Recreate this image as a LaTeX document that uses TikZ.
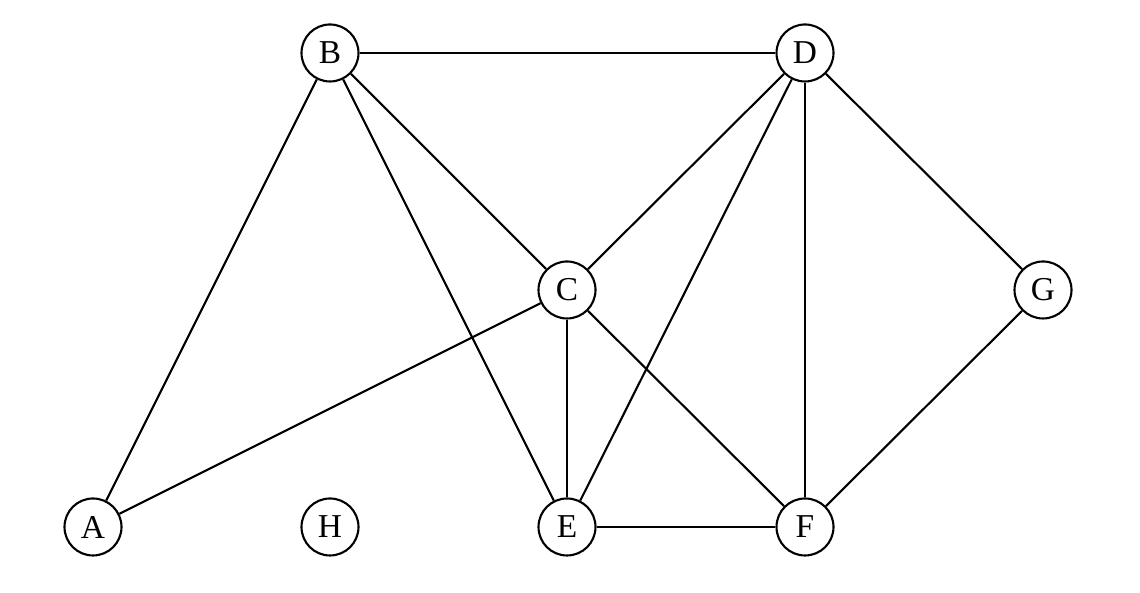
\documentclass[tikz,border=0pt]{standalone}
\usepackage{fontspec}
\setmainfont{Liberation Serif}
\tikzset{vertex/.style={circle,draw,semithick,minimum size=0.57cm,inner sep=0pt,font=\fontsize{9.5}{11}\selectfont}}
\begin{document}
\begin{tikzpicture}
%\draw (0,0) grid (11,6);
\useasboundingbox (0,0) rectangle (11.40,5.93);
\node[vertex] (A) at (0.93,0.66) {A};
\node[vertex] (H) at (3.30,0.66) {H};
\node[vertex] (E) at (5.67,0.66) {E};
\node[vertex] (F) at (8.05,0.66) {F};
\node[vertex] (C) at (5.67,3.03) {C};
\node[vertex] (G) at (10.43,3.03) {G};
\node[vertex] (B) at (3.30,5.40) {B};
\node[vertex] (D) at (8.05,5.40) {D};
\draw [semithick] (B) -- (D);
\draw [semithick] (B) -- (A);
\draw [semithick] (B) -- (C);
\draw [semithick] (B) -- (E);
\draw [semithick] (D) -- (C);
\draw [semithick] (D) -- (E);
\draw [semithick] (D) -- (F);
\draw [semithick] (D) -- (G);
\draw [semithick] (C) -- (A);
\draw [semithick] (C) -- (E);
\draw [semithick] (C) -- (F);
\draw [semithick] (E) -- (F);
\draw [semithick] (G) -- (F);
\end{tikzpicture}
\end{document}
